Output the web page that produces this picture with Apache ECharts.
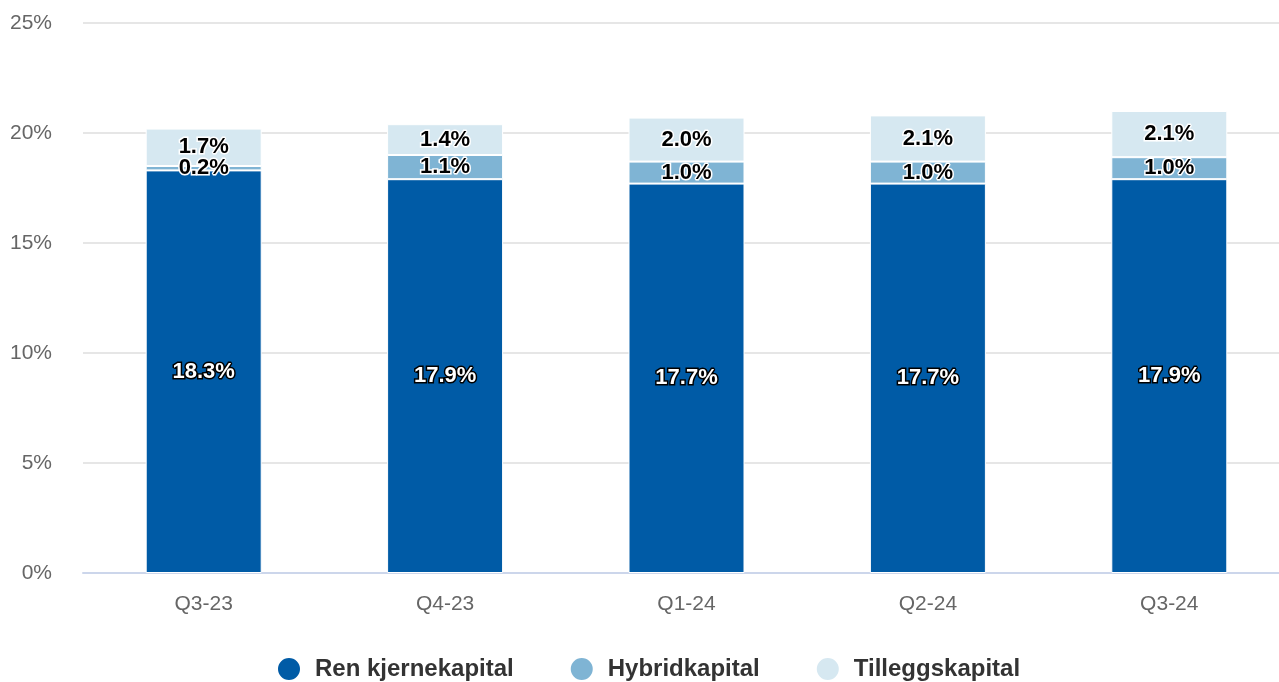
<!DOCTYPE html>
<html>
<head>
<meta charset="utf-8">
<script src="https://cdn.jsdelivr.net/npm/echarts@6/dist/echarts.min.js"></script>
<style>
  html, body { margin: 0; padding: 0; background: #fff; overflow: hidden; }
  /* the canvas is a little wider than the window; its right edge is cut off */
  #chart { width: 1290px; height: 682px; }
</style>
</head>
<body>
<div id="chart"></div>
<script>
// Capital ratio components per quarter (% of risk-weighted assets)
const quarters = ['Q3-23', 'Q4-23', 'Q1-24', 'Q2-24', 'Q3-24'];
const renKjernekapital = [18.3, 17.9, 17.7, 17.7, 17.9];
const hybridkapital = [0.2, 1.1, 1.0, 1.0, 1.0];
const tilleggskapital = [1.7, 1.4, 2.0, 2.1, 2.1];
const yTicks = [0, 5, 10, 15, 20, 25];

const FONT = '"Liberation Sans", Arial, Helvetica, sans-serif';

function labelStyle(dark) {
  return {
    show: true,
    position: 'inside',
    formatter: p => p.value.toFixed(1) + '%',
    fontFamily: FONT,
    fontSize: 22,
    fontWeight: 'bold',
    color: dark ? '#ffffff' : '#000000',
    textBorderColor: dark ? '#000000' : '#ffffff',
    textBorderWidth: 3
  };
}

function stackSeries(name, data, color, dark) {
  return {
    name: name,
    type: 'bar',
    stack: 'total',
    data: data,
    barWidth: 116,
    itemStyle: { color: color, borderColor: '#ffffff', borderWidth: 1 },
    label: labelStyle(dark),
    emphasis: { disabled: true }
  };
}

const chart = echarts.init(document.getElementById('chart'), null, { renderer: 'canvas' });
chart.setOption({
  animation: false,
  grid: { left: 83, right: 0, top: 23, bottom: 109, containLabel: false },
  legend: {
    left: 276,
    top: 656,
    padding: 0,
    itemWidth: 24,
    itemHeight: 24,
    itemGap: 55,
    icon: 'circle',
    textStyle: {
      fontFamily: FONT,
      fontSize: 24,
      fontWeight: 'bold',
      color: '#333333',
      padding: [2, 0, 0, 9]
    },
    data: ['Ren kjernekapital', 'Hybridkapital', 'Tilleggskapital']
  },
  xAxis: {
    type: 'category',
    data: quarters,
    axisLine: { show: true, lineStyle: { color: '#ccd6eb', width: 2 } },
    axisTick: { show: false },
    axisLabel: { margin: 21, fontFamily: FONT, fontSize: 21, color: '#666666' }
  },
  yAxis: {
    type: 'value',
    min: yTicks[0],
    max: yTicks[yTicks.length - 1],
    interval: yTicks[1] - yTicks[0],
    axisLine: { show: false },
    axisTick: { show: false },
    splitLine: { lineStyle: { color: '#e6e6e6', width: 2 } },
    axisLabel: {
      margin: 31,
      fontFamily: FONT,
      fontSize: 21,
      color: '#666666',
      formatter: v => v + '%'
    }
  },
  series: [
    stackSeries('Ren kjernekapital', renKjernekapital, '#005ba6', true),
    stackSeries('Hybridkapital', hybridkapital, '#7fb4d4', false),
    stackSeries('Tilleggskapital', tilleggskapital, '#d6e8f1', false)
  ]
});
</script>
</body>
</html>
